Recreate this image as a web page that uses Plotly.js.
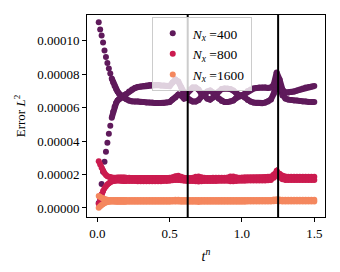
<!DOCTYPE html>
<html>
<head>
<meta charset="utf-8">
<script src="https://cdn.plot.ly/plotly-3.0.1.min.js"></script>
<style>html,body{margin:0;padding:0;background:#fff;}#chart{width:340px;height:272px;}</style>
</head>
<body>
<div id="chart"></div>
<script>
// time samples t^n
const t = [0.01,0.02,0.03,0.04,0.05,0.06,0.07,0.08,0.09,0.10,0.11,0.12,0.13,0.14,0.15,0.16,0.17,0.18,0.19,
0.20,0.22,0.24,0.26,0.28,0.30,0.32,0.34,0.36,0.38,0.40,0.42,0.44,0.46,0.48,0.50,0.52,0.54,0.56,0.58,
0.60,0.62,0.64,0.66,0.68,0.70,0.72,0.74,0.76,0.78,0.80,0.82,0.84,0.86,0.88,0.90,0.92,0.94,0.96,0.98,
1.00,1.02,1.04,1.06,1.08,1.10,1.12,1.14,1.16,1.18,1.20,1.22,1.24,1.26,1.28,1.30,1.32,1.34,1.36,1.38,
1.40,1.42,1.44,1.46,1.48,1.50];

// error values, in units of 1e-5
const UNIT = 1e-5;
const nx400_a = [11.10,10.68,10.32,9.90,9.42,9.03,8.67,8.34,8.04,7.74,7.50,7.29,7.11,6.96,6.84,6.75,6.69,6.63,6.57,
6.51,6.42,6.36,6.36,6.36,6.33,6.33,6.30,6.30,6.30,
6.27,6.27,6.27,6.27,6.30,6.33,6.48,6.60,6.78,6.72,
6.54,6.60,6.42,6.36,6.36,6.45,6.66,6.75,6.54,6.48,
6.60,6.72,6.54,6.39,6.33,6.33,6.36,6.42,6.57,6.69,
6.72,6.60,6.45,6.36,6.30,6.27,6.27,6.27,6.30,6.36,
6.48,6.84,7.44,7.08,6.72,6.54,6.48,6.45,6.42,6.42,
6.39,6.36,6.36,6.33,6.33,6.33];
const nx400_b = [0.30,0.60,1.44,2.16,2.76,3.36,3.90,4.44,4.92,5.40,5.76,6.06,6.27,6.42,6.51,6.57,6.63,6.66,6.75,
6.81,6.96,7.08,7.17,7.23,7.26,7.29,7.32,7.35,7.35,
7.35,7.35,7.32,7.32,7.29,7.29,7.50,7.68,7.56,7.20,
6.90,6.84,7.08,7.20,7.20,7.08,6.84,6.75,6.96,7.02,
6.90,6.78,6.96,7.11,7.14,7.14,7.11,7.02,6.87,6.75,
6.72,6.84,6.99,7.08,7.14,7.17,7.20,7.20,7.20,7.17,
7.20,7.38,8.10,7.68,7.08,6.90,6.90,6.93,6.96,7.02,
7.08,7.14,7.20,7.23,7.26,7.29];
const nx800_a = [2.80,2.60,2.40,2.22,2.08,1.97,1.90,1.86,1.84,1.82,1.81,1.81,1.81,1.82,1.82,1.82,1.82,1.82,1.82,
1.80,1.80,1.79,1.79,1.78,1.78,1.78,1.78,1.78,1.78,1.78,1.78,1.78,1.78,1.79,1.80,
1.84,1.90,1.92,1.86,
1.80,1.79,1.79,1.80,
1.86,1.88,1.84,1.80,
1.79,1.79,1.80,1.80,1.80,1.80,1.81,1.82,
1.88,1.88,1.84,
1.81,1.82,1.83,1.83,1.83,1.83,1.83,1.84,1.84,1.85,1.86,1.88,
2.00,2.22,2.05,1.92,
1.88,1.87,1.86,1.86,1.86,1.86,1.86,1.86,1.86,1.86,1.86];
const nx800_b = [0.25,0.55,0.82,1.02,1.18,1.30,1.40,1.48,1.54,1.58,1.61,1.63,1.64,1.64,1.64,1.63,1.63,1.62,1.62,
1.62,1.62,1.61,1.61,1.60,1.60,1.60,1.60,1.60,1.60,1.60,1.60,1.60,1.61,1.62,1.63,
1.66,1.68,1.68,1.66,
1.63,1.62,1.62,1.62,
1.60,1.58,1.60,1.62,
1.62,1.62,1.62,1.62,1.63,1.63,1.63,1.63,
1.60,1.60,1.62,
1.63,1.63,1.63,1.64,1.64,1.64,1.64,1.64,1.64,1.65,1.66,1.68,
1.80,1.95,1.82,1.72,
1.68,1.68,1.67,1.67,1.67,1.67,1.67,1.67,1.67,1.67,1.67];
const nx1600_a = [0.72,0.66,0.61,0.57,0.54,0.51,0.49,0.48,0.47,0.47,0.47,0.47,0.47,0.47,0.47,0.47,0.47,0.47,0.47,
0.47,0.47,0.47,0.47,0.47,0.47,0.47,0.47,0.47,0.47,0.47,0.47,0.47,0.47,0.47,0.47,
0.48,0.49,0.49,0.48,
0.47,0.47,0.47,0.47,
0.48,0.48,0.48,0.47,
0.47,0.47,0.47,0.47,0.47,0.47,0.47,0.47,
0.48,0.48,0.48,
0.48,0.48,0.48,0.48,0.48,0.48,0.48,0.48,0.48,0.48,0.48,0.48,
0.50,0.52,0.50,0.49,
0.49,0.49,0.49,0.49,0.49,0.49,0.49,0.49,0.49,0.49,0.49];
const nx1600_b = [0.02,0.10,0.18,0.24,0.29,0.33,0.35,0.37,0.38,0.38,0.38,0.38,0.37,0.37,0.37,0.37,0.37,0.37,0.37,
0.37,0.37,0.37,0.37,0.37,0.37,0.37,0.37,0.37,0.37,0.37,0.37,0.37,0.37,0.37,0.37,
0.38,0.38,0.38,0.37,
0.37,0.37,0.37,0.37,
0.37,0.36,0.37,0.37,
0.37,0.37,0.37,0.37,0.37,0.37,0.37,0.37,
0.37,0.37,0.37,
0.37,0.37,0.37,0.38,0.38,0.38,0.38,0.38,0.38,0.38,0.38,0.38,
0.40,0.42,0.40,0.39,
0.38,0.38,0.38,0.38,0.38,0.38,0.38,0.38,0.38,0.38,0.38];

const seriesNames = ['<i>N</i><sub><i>x</i></sub> =400', '<i>N</i><sub><i>x</i></sub> =800', '<i>N</i><sub><i>x</i></sub> =1600'];
const seriesColors = ['#5f1a5b', '#cb1b4f', '#f4875e'];
const vlines = [0.625, 1.25];

const series = [[nx400_a, nx400_b], [nx800_a, nx800_b], [nx1600_a, nx1600_b]];
// purple early points are drawn as separate dots; line segments start later
const lineStart = [9, 0, 0];
const lineWidths = [6, 5, 5];

const traces = [];
series.forEach((branches, si) => {
  branches.forEach((vals, bi) => {
    const y = vals.map(v => v * UNIT);
    traces.push({
      type: 'scatter', mode: 'lines', x: t.slice(lineStart[si]), y: y.slice(lineStart[si]),
      line: {color: seriesColors[si], width: lineWidths[si]}, showlegend: false, hoverinfo: 'skip',
      legendgroup: 'g' + si
    });
    traces.push({
      type: 'scatter', mode: 'markers', x: t, y: y,
      marker: {color: seriesColors[si], size: 6},
      name: seriesNames[si], showlegend: bi === 0, legendgroup: 'g' + si
    });
  });
});

const axisCommon = {
  ticks: 'outside', ticklen: 4, tickwidth: 1, tickcolor: '#000',
  showline: true, linecolor: '#000', linewidth: 1, mirror: true,
  showgrid: false, zeroline: false,
  tickfont: {family: 'Liberation Serif', size: 13, color: '#000'}
};

const layout = {
  width: 340, height: 272,
  margin: {l: 87, r: 15, t: 15, b: 55},
  paper_bgcolor: '#fff', plot_bgcolor: '#fff',
  font: {family: 'Liberation Serif', size: 13, color: '#000'},
  xaxis: Object.assign({}, axisCommon, {
    range: [-0.071, 1.574], tick0: 0, dtick: 0.5, tickformat: '.1f',
    title: {text: '<i>t</i><sup><i>n</i></sup>', standoff: 11, font: {family: 'Liberation Serif', size: 14}}
  }),
  yaxis: Object.assign({}, axisCommon, {
    range: [-0.54e-5, 11.54e-5], tick0: 0, dtick: 2e-5, tickformat: '.5f',
    title: {text: 'Error <i>L</i><sup>2</sup>', standoff: 8, font: {family: 'Liberation Serif', size: 13}}
  }),
  showlegend: true,
  legend: {
    x: 0.272, y: 0.99, xanchor: 'left', yanchor: 'top',
    bgcolor: 'rgba(255,255,255,0.8)', bordercolor: '#cccccc', borderwidth: 1,
    font: {family: 'Liberation Serif', size: 13.5, color: '#000'},
    tracegroupgap: 0
  },
  shapes: vlines.map(v => ({
    type: 'line', xref: 'x', yref: 'paper', x0: v, x1: v, y0: 0, y1: 1,
    line: {color: '#000', width: 2}, layer: 'above'
  }))
};

Plotly.newPlot('chart', traces, layout, {displayModeBar: false, staticPlot: true});
</script>
</body>
</html>
